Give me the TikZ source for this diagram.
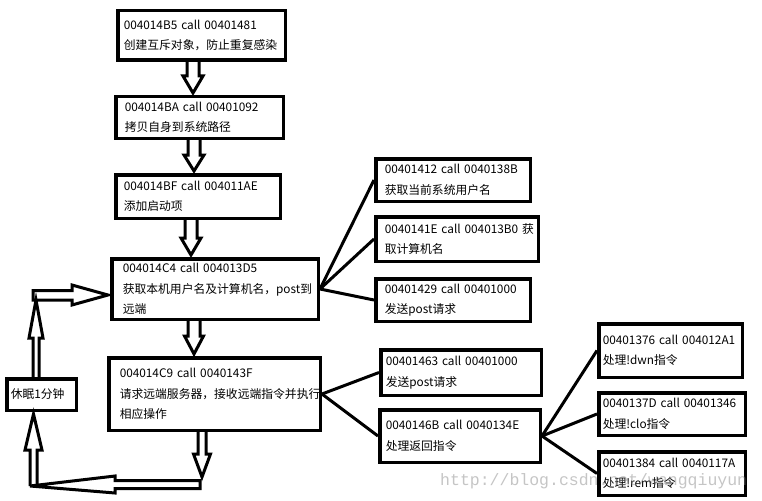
\documentclass[tikz,border=0pt]{standalone}
\usepackage{fontspec}
\setmainfont{Noto Sans CJK SC}
\newfontfamily\wmfont{Liberation Mono}
\usetikzlibrary{calc}
\tikzset{
  box/.style={draw, line width=3.5pt, fill=white, align=left, inner ysep=2pt,
    font=\fontsize{11.8}{20.5}\selectfont},
  harrow/.style={draw, line width=3pt, line join=miter},
  conn/.style={draw, line width=3pt},
  wm/.style={font=\wmfont\fontsize{16.5}{16.5}\selectfont, text=gray, text opacity=0.45, inner sep=0pt}
}
% name, x1, y1, x2, y2 (outer edges, px), pad, text
\newcommand\bx[7]{%
  \pgfmathsetmacro\bw{#4-#2-3.5}%
  \pgfmathsetmacro\bh{#5-#3-3.5}%
  \pgfmathsetmacro\tw{#4-#2-3.5-2*#6}%
  \node[box, inner xsep=#6pt, minimum width=\bw pt, minimum height=\bh pt, text width=\tw pt]
    (#1) at ({(#2+#4)/2},{(#3+#5)/2}) {#7};}
% hollow down arrow: x, from, to, shaft half width, head half width, head length
\newcommand\hdown[6]{%
  \draw[harrow] let \p1=(#2), \p2=(#3) in
    (#1pt-#4pt,\y1) -- (#1pt-#4pt,\y2+#6pt+2pt) -- (#1pt-#5pt,\y2+#6pt+2pt) -- (#1pt,\y2+2pt)
    -- (#1pt+#5pt,\y2+#6pt+2pt) -- (#1pt+#4pt,\y2+#6pt+2pt) -- (#1pt+#4pt,\y1);}
\begin{document}
\begin{tikzpicture}[x=1pt,y=-1pt]
\useasboundingbox[fill=white] (0,0) rectangle (762,500);

% main column
\bx{b1}{116}{9}{287}{62}{6}{004014B5~call~00401481\\创建互斥对象，防止重复感染}
\bx{b2}{114}{95}{285}{140}{9}{004014BA~call~00401092\\拷贝自身到系统路径}
\bx{b3}{114}{173}{282}{220}{8}{004014BF~call~004011AE\\添加启动项}
\bx{b4}{110}{257}{320}{321}{11}{004014C4~call~004013D5\\获取本机用户名及计算机名，post到\\远端}
\bx{b5}{107}{356}{322}{432}{11}{004014C9~call~0040143F\\请求远端服务器，接收远端指令并执行\\相应操作}
\bx{sleep}{5}{377}{78}{412}{4}{休眠1分钟}

% first side group
\bx{ra}{374}{157}{532}{203}{9}{00401412~call~0040138B\\获取当前系统用户名}
\bx{rb}{374}{215}{540}{263}{9}{0040141E~call~004013B0~获\\取计算机名}
\bx{rc}{374}{277}{532}{323}{9}{00401429~call~00401000\\发送post请求}

% second side group
\bx{rd}{379}{348}{543}{397}{5}{00401463~call~00401000\\发送post请求}
\bx{re}{378}{408}{542}{464}{6}{0040146B~call~0040134E\\处理返回指令}

% third side group
\bx{rf}{597}{322}{744}{379}{4}{00401376~call~004012A1\\处理!dwn指令}
\bx{rg}{597}{391}{747}{437}{4}{0040137D~call~00401346\\处理!clo指令}
\bx{rh}{597}{450}{747}{497}{4}{00401384~call~0040117A\\处理!rem指令}

% connectors
\draw[conn] (b4.east) -- (ra.west);
\draw[conn] (b4.east) -- (rb.west);
\draw[conn] (b4.east) -- (rc.west);
\draw[conn] (b5.east) -- (rd.west);
\draw[conn] (b5.east) -- (re.west);
\draw[conn] (re.east) -- (rf.west);
\draw[conn] (re.east) -- (rg.west);
\draw[conn] (re.east) -- (rh.west);

% hollow arrows down the main column
\hdown{193}{b1.south}{b2.north}{6}{10}{17}
\hdown{194}{b2.south}{b3.north}{6}{10}{16}
\hdown{191}{b3.south}{b4.north}{6}{10}{17}
\hdown{194}{b4.south}{b5.north}{6}{9.5}{18}
\coordinate (dtip) at (202,479);
\hdown{202}{b5.south}{dtip}{4}{8.5}{23}

% loop back to the sleep box and to b4
\draw[harrow] (200,480.5) -- (115,480.5) -- (115,476) -- (30,486) -- (115,493)
  -- (115,488.5) -- (200,488.5) -- cycle;
\draw[harrow] let \p1=(sleep.south) in
  (30,486) -- (30,450) -- (25,450) -- (33.5pt,\y1-2pt) -- (42,450) -- (37,450) -- (37,485);
\draw[harrow] let \p1=(sleep.north) in
  (33pt,\y1) -- (33,338) -- (29,338) -- (36,300) -- (43,338) -- (39,338) -- (39pt,\y1);
\draw[harrow] let \p1=(b4.west) in
  (33,290.5) -- (72,290.5) -- (72,285) -- (\x1-2pt,-295pt) -- (72,305) -- (72,300) -- (33,300) -- cycle;

% watermark
\node[wm, anchor=base west] (wmark) at (440,485) {http://blog.csdn.net/wangqiuyun};
\end{tikzpicture}
\end{document}
